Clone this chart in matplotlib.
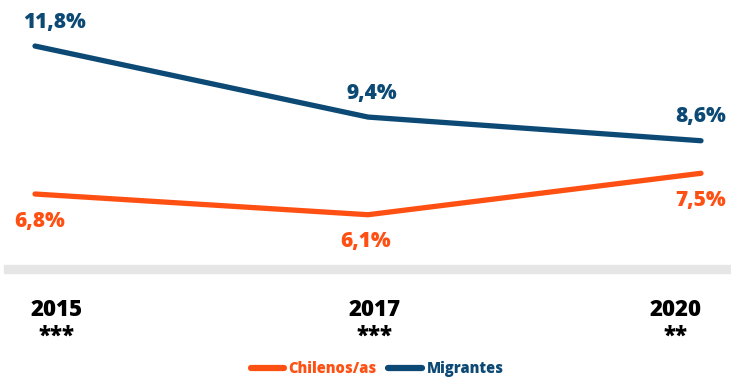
import matplotlib
matplotlib.use('Agg')
import matplotlib.pyplot as plt
from matplotlib.patches import Rectangle

plt.rcParams['font.family'] = ['Open Sans', 'DejaVu Sans']

years = ['2015', '2017', '2020']
signif = ['***', '***', '**']
chilenos = [6.8, 6.1, 7.5]
migrantes = [11.8, 9.4, 8.6]

BLUE = '#0c4a75'
ORANGE = '#ff5014'


def pct(v):
    return f'{v:.1f}%'.replace('.', ',')


def main():
    fig = plt.figure(figsize=(7.31, 3.78), dpi=100)
    ax = fig.add_axes([0, 1 - 260 / 378, 1, 240 / 378])
    ax.set_axis_off()

    xs = list(range(len(years)))
    ax.plot(xs, chilenos, color=ORANGE, lw=3.8, solid_capstyle='round',
            solid_joinstyle='round', label='Chilenos/as')
    ax.plot(xs, migrantes, color=BLUE, lw=3.8, solid_capstyle='round',
            solid_joinstyle='round', label='Migrantes')
    ax.set_xlim(-35 * 2 / 666, 2 + 30 * 2 / 666)
    ax.set_ylim(4.57, 12.68)

    # value labels: migrantes above, chilenos below
    dx_blue = [20, 4, 0]
    dx_orange = [5, -2, 0]
    for i, v in enumerate(migrantes):
        ax.annotate(pct(v), (i, v), xytext=(dx_blue[i], 24), textcoords='offset pixels',
                    ha='center', va='center', color=BLUE, fontsize=15, fontweight='heavy')
    for i, v in enumerate(chilenos):
        ax.annotate(pct(v), (i, v), xytext=(dx_orange[i], -27), textcoords='offset pixels',
                    ha='center', va='center', color=ORANGE, fontsize=15, fontweight='heavy')

    # grey baseline band
    fig.patches.append(Rectangle((4 / 731, 1 - 273 / 378), 727 / 731, 8 / 378,
                                 transform=fig.transFigure, color='#e6e6e6', zorder=0))

    # year and significance labels
    dx_year = [22, 7, -25]
    tr = ax.get_xaxis_transform()
    for i, (yr, s) in enumerate(zip(years, signif)):
        ax.annotate(yr, (i, 0), xycoords=tr, xytext=(dx_year[i], -50), textcoords='offset pixels',
                    ha='center', va='center', fontsize=16, fontweight='heavy', color='black',
                    annotation_clip=False)
        ax.annotate(s, (i, 0), xycoords=tr, xytext=(dx_year[i], -77), textcoords='offset pixels',
                    ha='center', va='center', fontsize=16, fontweight='heavy', color='black',
                    annotation_clip=False)

    leg = fig.legend(loc='center', bbox_to_anchor=(377 / 731, 1 - 369 / 378), ncol=2,
                     frameon=False, handlelength=2.3, handletextpad=0.3, columnspacing=0.8,
                     prop={'size': 10.5, 'weight': 'heavy'}, labelcolor='linecolor')
    for line in leg.get_lines():
        line.set_linewidth(4.5)

    fig.savefig('out.png', dpi=100)


if __name__ == '__main__':
    main()
